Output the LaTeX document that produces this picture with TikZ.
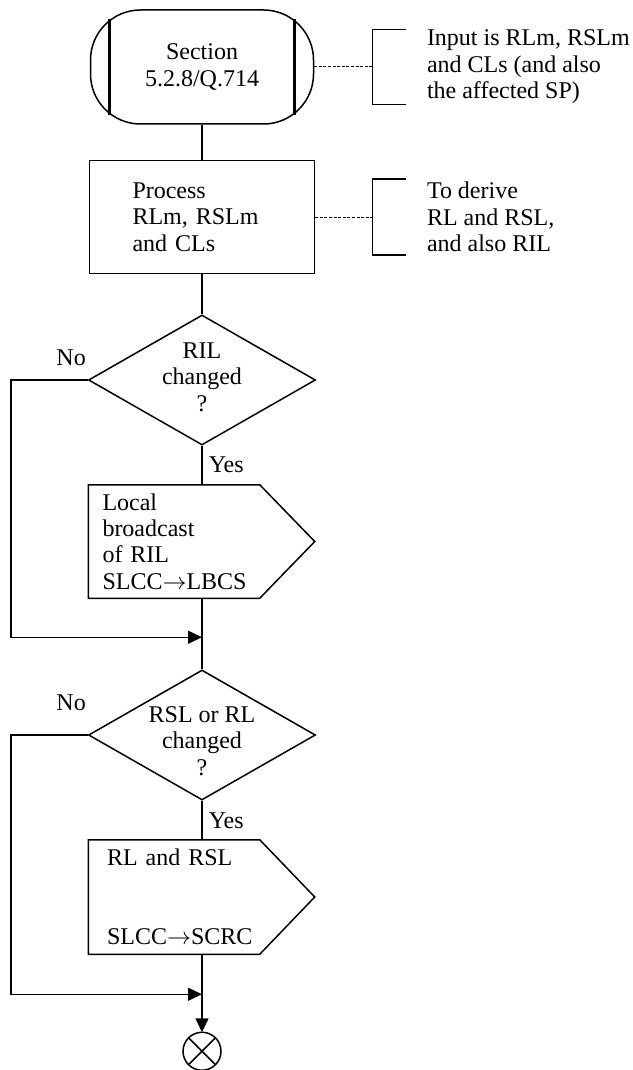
\documentclass[tikz,border=0pt]{standalone}
\usepackage{fontspec}
\setmainfont{Liberation Serif}
\usepackage{tikz}
\usetikzlibrary{arrows.meta,positioning,shapes.geometric,calc}

\begin{document}
\begin{tikzpicture}[
  font=\fontsize{12}{13.2}\selectfont,
  line width=0.75pt,
  term/.style={rectangle, rounded corners=25pt, draw, minimum width=111.5pt,
               minimum height=57pt, align=center, inner sep=0pt},
  proc/.style={rectangle, draw, minimum width=112.5pt, minimum height=56.5pt,
               text width=69.5pt, inner xsep=21.5pt, inner ysep=0pt, align=left},
  dec/.style={diamond, draw, minimum width=113.5pt, minimum height=65pt, inner sep=0pt},
  sig/.style={rectangle, minimum width=85pt, inner ysep=0pt, align=left},
  note/.style={align=left, inner sep=0pt},
  lab/.style={inner sep=0pt},
  arr/.style={-{Triangle[length=7pt,width=6.5pt]}},
  cmt/.style={dash pattern=on 1.5pt off 0.8pt, line width=0.5pt},
]
\useasboundingbox (0,0) rectangle (316pt,-535pt);
% main vertical chain
\node[term] (start) at (101pt,-33.5pt) {Section\\5.2.8/Q.714};
\draw[line width=1.4pt] ([shift={(10pt,-5pt)}]start.north west) -- ([shift={(10pt,5pt)}]start.south west)
  ([shift={(-10pt,-5pt)}]start.north east) -- ([shift={(-10pt,5pt)}]start.south east);
\node[proc, below=17.5pt of start] (proc) {Process\\RLm, RSLm\\and CLs};
\node[dec, below=20pt of proc, label={[name=d1t, align=center, yshift=1.5pt]center:RIL\\changed\\?}] (d1) {};
\node[sig, minimum height=56pt, text width=71.5pt, inner xsep=6.75pt, below=19.5pt of d1, xshift=-14pt] (out1)
  {Local\\broadcast\\of RIL\\\rlap{SLCC$\rightarrow$LBCS}};
\draw (out1.north west) -- (out1.north east) -- ([xshift=27.5pt]out1.east)
  -- (out1.south east) -- (out1.south west) -- cycle;
\node[dec, below=35.5pt of out1, xshift=14pt,
  label={[name=d2t, align=center, yshift=-3pt]center:RSL or RL\\changed\\?}] (d2) {};
\node[sig, minimum height=56.5pt, text width=67pt, inner xsep=9pt, below=19.5pt of d2, xshift=-14pt] (out2)
  {RL and RSL\\[26.4pt]\rlap{SLCC$\rightarrow$SCRC}};
\draw (out2.north west) -- (out2.north east) -- ([xshift=27.5pt]out2.east)
  -- (out2.south east) -- (out2.south west) -- cycle;
\node[circle, draw, minimum size=19pt, inner sep=0pt, outer sep=0pt, below=39pt of out2, xshift=14pt] (endc) {};
\draw (endc.north west) -- (endc.south east) (endc.north east) -- (endc.south west);
\coordinate (m1) at ($(out1.south -| d1.south)+(0,-19.5pt)$);
\coordinate (m2) at ($(out2.south -| d2.south)+(0,-20pt)$);
% connectors
\draw (start) -- (proc);
\draw (proc) -- (d1);
\draw (d1.south) -- node[lab, right=3pt] (y1) {Yes} (d1.south |- out1.north);
\draw (d1.south |- out1.south) -- (d2.north);
\draw[arr] (d1.west) -- ++(-38.5pt,0) |- (m1);
\node[lab, above left=7pt and 0.6pt of d1.west] (no1) {No};
\draw (d2.south) -- node[lab, right=3pt] (y2) {Yes} (d2.south |- out2.north);
\draw[arr] (out2.south -| d2.south) -- (endc);
\draw[arr] (d2.west) -- ++(-38.5pt,0) |- (m2);
\node[lab, above left=12pt and 0.6pt of d2.west] (no2) {No};
% comments on the right
\node[note, right=56pt of start] (n1) {Input is RLm, RSLm\\and CLs (and also\\the affected SP)};
\coordinate[left=27pt of n1.west] (b1);
\draw[cmt] (start) -- (b1);
\draw ([shift={(17pt,18.75pt)}]b1) -- ([yshift=18.75pt]b1) -- ([yshift=-18.75pt]b1) -- ([shift={(17pt,-18.75pt)}]b1);
\node[note, right=55.5pt of proc] (n2) {To derive\\RL and RSL,\\and also RIL};
\coordinate[left=27pt of n2.west] (b2);
\draw[cmt] (proc) -- (b2);
\draw ([shift={(17pt,19pt)}]b2) -- ([yshift=19pt]b2) -- ([yshift=-19pt]b2) -- ([shift={(17pt,-19pt)}]b2);
\end{tikzpicture}
\end{document}
